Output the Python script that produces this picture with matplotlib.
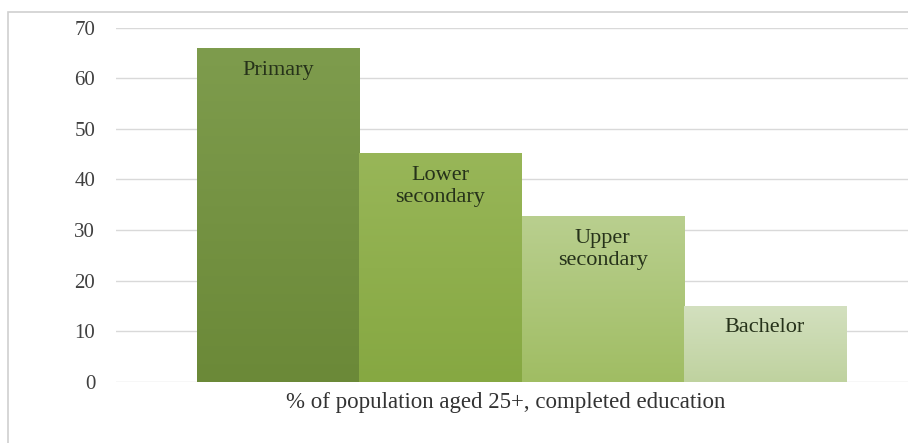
import numpy as np
import matplotlib
matplotlib.use("Agg")
import matplotlib.pyplot as plt
from matplotlib.colors import LinearSegmentedColormap
from matplotlib.patches import Rectangle

categories = ["Primary", "Lower\nsecondary", "Upper\nsecondary", "Bachelor"]
values = [65.9, 45.1, 32.7, 15.0]
yticks = [0, 10, 20, 30, 40, 50, 60, 70]
xlabel = "% of population aged 25+, completed education"

top_colors = ["#7e9c4d", "#98b658", "#b9cf8f", "#d3e0bf"]
bottom_colors = ["#6b8938", "#86a842", "#a0bd63", "#bfd29f"]

fig = plt.figure(figsize=(9.08, 4.43), dpi=100)
fig.patch.set_facecolor("white")
ax = fig.add_axes([116/908, 61.3/443, 811/908, 354.2/443])
ax.set_xlim(0, 1)
ax.set_ylim(0, 70)

positions = [0.2, 0.4, 0.6, 0.8]
bars = ax.bar(positions, values, width=0.2, color=bottom_colors, edgecolor="none", zorder=2)

grad = np.linspace(0, 1, 256).reshape(-1, 1)
for bar, tc, bc in zip(bars, top_colors, bottom_colors):
    x0 = bar.get_x(); w = bar.get_width(); h = bar.get_height()
    cmap = LinearSegmentedColormap.from_list("g", [bc, tc])
    im = ax.imshow(grad, extent=[x0, x0 + w, 0, h], origin="lower", aspect="auto",
                   cmap=cmap, zorder=3)
    im.set_clip_path(bar)

for pos, val, lab in zip(positions, values, categories):
    ax.annotate(lab, xy=(pos, val), xytext=(0, -9), textcoords="offset points",
                ha="center", va="top", fontsize=16, family="Liberation Serif",
                color="#26321a", linespacing=1.2, zorder=4)

ax.set_yticks(yticks)
ax.set_xticks([])
ax.yaxis.grid(True, color="#d9d9d9", linewidth=1.0, zorder=0)
ax.set_axisbelow(True)
for s in ax.spines.values():
    s.set_visible(False)
ax.tick_params(axis="y", length=0, pad=15, labelsize=15, labelcolor="#404040")
for t in ax.get_yticklabels():
    t.set_family("Liberation Serif")
ax.set_xlabel(xlabel, fontsize=16.5, family="Liberation Serif", color="#333333")
ax.xaxis.set_label_coords((506 - 116) / 811, -0.03, transform=ax.transAxes)
ax.xaxis.label.set_va("top")

fig.patches.append(Rectangle((8/908, -0.2), 1.5, 1 - 12/443 + 0.2, transform=fig.transFigure,
                             fill=False, edgecolor="#d0d0d0", linewidth=1.2, zorder=0))

fig.savefig("out.png", dpi=100, facecolor="white")
